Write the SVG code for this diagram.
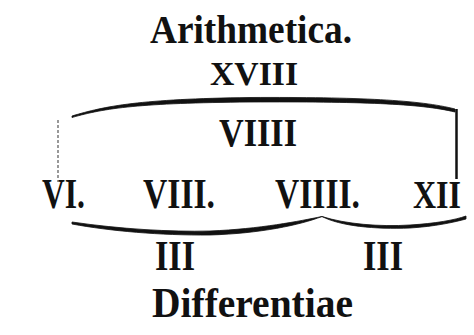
<svg xmlns="http://www.w3.org/2000/svg" width="474" height="335" viewBox="0 0 474 335">
<style>
text{font-family:"Liberation Serif","DejaVu Serif",serif;font-weight:bold;fill:#111;}
.ink{fill:#111;stroke:#111;stroke-width:0.8;stroke-linejoin:round;}
</style>
<rect width="474" height="335" fill="#fff"/>
<g id="title"><text x="150" y="43" font-size="41" textLength="202" lengthAdjust="spacingAndGlyphs">Arithmetica.</text></g>
<g id="total"><text x="210" y="85" font-size="34" textLength="88" lengthAdjust="spacingAndGlyphs">XVIII</text></g>
<g id="span"><text x="219" y="146" font-size="40" textLength="78" lengthAdjust="spacingAndGlyphs">VIIII</text></g>
<g id="n6"><text x="42" y="208" font-size="42" textLength="43" lengthAdjust="spacingAndGlyphs">VI.</text></g>
<g id="n8"><text x="143" y="208" font-size="42" textLength="72" lengthAdjust="spacingAndGlyphs">VIII.</text></g>
<g id="n9"><text x="275" y="208" font-size="42" textLength="85" lengthAdjust="spacingAndGlyphs">VIIII.</text></g>
<g id="n12"><text x="413" y="208" font-size="39" textLength="48" lengthAdjust="spacingAndGlyphs">XII</text></g>
<g id="d1"><text x="155" y="270" font-size="42" textLength="40" lengthAdjust="spacingAndGlyphs">III</text></g>
<g id="d2"><text x="363" y="270" font-size="42" textLength="40" lengthAdjust="spacingAndGlyphs">III</text></g>
<g id="label"><text x="152" y="317" font-size="42" textLength="201" lengthAdjust="spacingAndGlyphs">Differentiae</text></g>
<g id="connectors">
<path class="ink" d="M72,116 C105,106 140,99 250,97.5 C360,97 420,100 455,109 L455,112 C420,103.5 360,101.5 250,102 C140,103 105,108 72,117.5 Z"/>
<line x1="456.5" y1="109" x2="456.5" y2="179" stroke="#111" stroke-width="2.5"/>
<line x1="58" y1="120" x2="58" y2="182" stroke="#555" stroke-width="1.2" stroke-dasharray="3,2"/>
<path class="ink" d="M72,222 C120,229 170,232 210,231 C260,229 300,221 322,216.5 C300,225 260,233.5 210,235 C160,235.5 110,231 72,224 Z"/>
<path class="ink" d="M322,216.5 C345,224 380,227 410,225 C435,223.5 455,220 466,216 L466,219 C455,222 435,226.5 410,228 C375,229.5 340,226 322,216.5 Z"/>
</g>
</svg>
